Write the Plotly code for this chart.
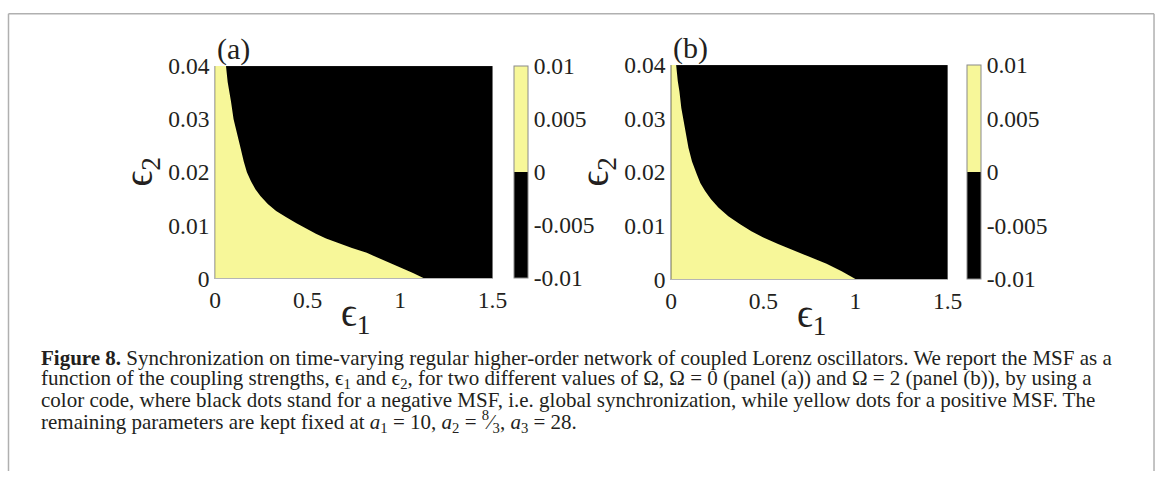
import plotly.graph_objects as go

# Layout is planned in page pixels (1167 x 477) and converted to figure pixels:
# the graph sits inside the browser's body margin and the page is scaled on capture.
AX, BX = 0.984, 4.5      # page_x = AX * fig_x + BX
AY, BY = 0.954, 10.5     # page_y = AY * fig_y + BY
W, H = 1170, 484         # figure size in pixels
SERIF = "Liberation Serif, DejaVu Serif, serif"
YELLOW = "rgb(247,247,153)"
INK = "#231f20"

# Stability boundary of the MSF in the (eps1, eps2) plane: MSF > 0 to the left of it.
# Panel (a): Omega = 0
eps2_a = [0.0000, 0.0010, 0.0020, 0.0028, 0.0038, 0.0048, 0.0057, 0.0066, 0.0075,
          0.0084, 0.0094, 0.0104, 0.0115, 0.0127, 0.0140, 0.0155, 0.0168, 0.0183,
          0.0200, 0.0220, 0.0245, 0.0271, 0.0300, 0.0333, 0.0370, 0.0400]
eps1_a = [1.129, 1.070, 1.005, 0.950, 0.888, 0.820, 0.740, 0.665, 0.600,
          0.545, 0.490, 0.440, 0.385, 0.330, 0.285, 0.245, 0.218, 0.194,
          0.172, 0.155, 0.138, 0.120, 0.100, 0.086, 0.068, 0.059]
# Panel (b): Omega = 2
eps2_b = [0.0000, 0.0015, 0.0029, 0.0042, 0.0054, 0.0066, 0.0078, 0.0090, 0.0103,
          0.0118, 0.0134, 0.0150, 0.0165, 0.0180, 0.0196, 0.0220, 0.0245, 0.0270,
          0.0294, 0.0320, 0.0350, 0.0370, 0.0400]
eps1_b = [1.002, 0.925, 0.843, 0.750, 0.662, 0.580, 0.500, 0.435, 0.374,
          0.310, 0.256, 0.215, 0.184, 0.158, 0.139, 0.113, 0.094, 0.080,
          0.067, 0.055, 0.045, 0.036, 0.027]

EPS1_MAX, EPS2_MAX = 1.5, 0.04
x_ticks = [0, 0.5, 1, 1.5]
x_ticktext = ["0", "0.5", "1", "1.5"]
y_ticks = [0, 0.01, 0.02, 0.03, 0.04]
y_ticktext = ["0", "0.01", "0.02", "0.03", "0.04"]
msf_range = [-0.01, 0.01]
cb_ticks = [-0.01, -0.005, 0, 0.005, 0.01]
cb_ticktext = ["-0.01", "-0.005", "0", "0.005", "0.01"]

caption_lines = [
    "<b>Figure 8.</b> Synchronization on time-varying regular higher-order network of coupled Lorenz oscillators. We report the MSF as a",
    "function of the coupling strengths, ϵ<sub>1</sub> and ϵ<sub>2</sub>, for two different values of Ω, Ω = 0 (panel (a)) and Ω = 2 (panel (b)), by using a",
    "color code, where black dots stand for a negative MSF, i.e. global synchronization, while yellow dots for a positive MSF. The",
    "remaining parameters are kept fixed at <i>a</i><sub>1</sub> = 10, <i>a</i><sub>2</sub> = <sup>8</sup>⁄<sub>3</sub>, <i>a</i><sub>3</sub> = 28.",
]


def fig_x(x):
    return (x - BX) / AX


def fig_y(y):
    return (y - BY) / AY


def px(x):
    """Page x in pixels -> paper coordinate."""
    return min(max(fig_x(x) / W, 0.0), 1.0)


def py(y):
    """Page y in pixels (from the top) -> paper coordinate."""
    return min(max(1 - fig_y(y) / H, 0.0), 1.0)


panels = [
    # (boundary eps1, boundary eps2, x-extent px, y-extent px, label, colorbar x px)
    (eps1_a, eps2_a, (214, 492), (64, 278), "(a)", 514),
    (eps1_b, eps2_b, (671, 948), (63, 279), "(b)", 967),
]

colorscale = [[0, "black"], [0.5, "black"], [0.5, YELLOW], [1, YELLOW]]

fig = go.Figure()
layout_axes = {}
annotations = []

for i, (e1, e2, xd, yd, label, cbx) in enumerate(panels, start=1):
    xa = "x" if i == 1 else f"x{i}"
    ya = "y" if i == 1 else f"y{i}"

    # yellow (positive MSF) region bounded by the stability curve
    fig.add_trace(go.Scatter(
        x=[0] + e1 + [0], y=[0] + e2 + [EPS2_MAX],
        mode="lines", fill="toself", fillcolor=YELLOW,
        line=dict(width=0, color=YELLOW), hoverinfo="skip",
        xaxis=xa, yaxis=ya, showlegend=False,
    ))

    # colour scale of the MSF
    fig.add_trace(go.Scatter(
        x=[0, 0], y=[0, 0], mode="markers", hoverinfo="skip",
        xaxis=xa, yaxis=ya, showlegend=False,
        marker=dict(
            color=msf_range, colorscale=colorscale, cmin=msf_range[0], cmax=msf_range[1],
            size=0.1, opacity=0, showscale=True,
            colorbar=dict(
                x=px(cbx), xanchor="left", xpad=0, ypad=0,
                y=py(yd[0]), yanchor="top",
                len=(fig_y(yd[1]) - fig_y(yd[0])) / H, lenmode="fraction",
                thickness=14 / AX, thicknessmode="pixels",
                outlinecolor="#8a8a8a", outlinewidth=1,
                tickvals=cb_ticks, ticktext=cb_ticktext, ticks="",
                tickfont=dict(family=SERIF, size=23.5, color=INK),
            ),
        ),
    ))

    axis_common = dict(showgrid=False, zeroline=False, showline=True,
                       linecolor="#b5b5b5", linewidth=1, ticks="",
                       tickfont=dict(family=SERIF, size=23.5, color=INK))
    layout_axes["xaxis" if i == 1 else f"xaxis{i}"] = dict(
        axis_common, domain=[px(xd[0]), px(xd[1])], range=[0, EPS1_MAX],
        tickvals=x_ticks, ticktext=x_ticktext, anchor=ya,
    )
    layout_axes["yaxis" if i == 1 else f"yaxis{i}"] = dict(
        axis_common, domain=[py(yd[1]), py(yd[0])], range=[0, EPS2_MAX],
        tickvals=y_ticks, ticktext=y_ticktext, anchor=xa,
    )

    # panel label and axis titles
    annotations.append(dict(text=label, x=px(xd[0]), y=py(yd[0] - 17), xref="paper", yref="paper",
                            xanchor="left", yanchor="middle", showarrow=False,
                            font=dict(family=SERIF, size=30, color=INK)))
    annotations.append(dict(text="ϵ<sub>1</sub>", x=px((xd[0] + xd[1]) / 2 + 2), y=py(yd[1] + 37),
                            xref="paper", yref="paper", xanchor="center", yanchor="middle",
                            showarrow=False, font=dict(family=SERIF, size=39, color=INK)))
    annotations.append(dict(text="ϵ<sub>2</sub>", x=px(xd[0] - 74), y=py((yd[0] + yd[1]) / 2),
                            xref="paper", yref="paper", xanchor="center", yanchor="middle",
                            textangle=-90, showarrow=False,
                            font=dict(family=SERIF, size=39, color=INK)))

# caption
for k, line in enumerate(caption_lines):
    annotations.append(dict(text=line, x=px(38), y=py(358 + 21.3 * k), xref="paper", yref="paper",
                            xanchor="left", yanchor="middle", showarrow=False, align="left",
                            font=dict(family=SERIF, size=21, color=INK)))

# page frame: top rule and the two side rules
frame = "#b0b0b0"
fx0, fx1, fy0 = px(7), min(px(1162), 1 - 1.0 / W), 1 - 0.8 / H
shapes = [
    dict(type="line", xref="paper", yref="paper", x0=fx0, x1=fx1, y0=fy0, y1=fy0,
         line=dict(color=frame, width=1.5)),
    dict(type="line", xref="paper", yref="paper", x0=fx0, x1=fx0, y0=fy0, y1=0,
         line=dict(color=frame, width=1.5)),
    dict(type="line", xref="paper", yref="paper", x0=fx1, x1=fx1, y0=fy0, y1=0,
         line=dict(color=frame, width=1.5)),
]

fig.update_layout(
    width=W, height=H, margin=dict(l=0, r=0, t=0, b=0),
    paper_bgcolor="white", plot_bgcolor="black",
    showlegend=False, annotations=annotations, shapes=shapes,
    **layout_axes,
)

fig.write_html("out.html")
